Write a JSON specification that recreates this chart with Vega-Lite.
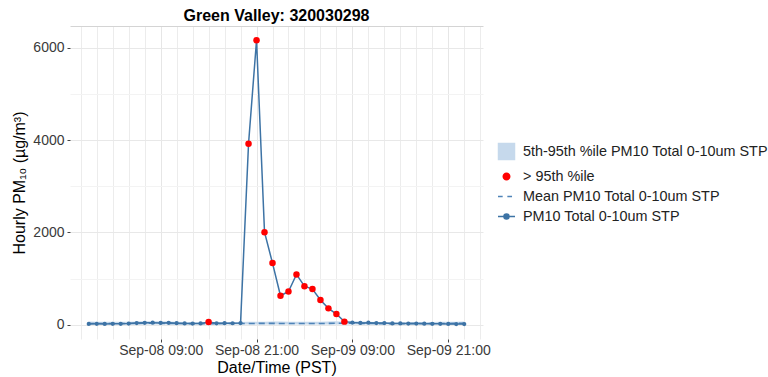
{
  "$schema": "https://vega.github.io/schema/vega-lite/v6.json",
  "autosize": {"type": "none"},
  "padding": {"left": 70, "top": 26, "right": 285, "bottom": 38},
  "width": 413,
  "height": 313,
  "background": "white",
  "title": {
    "text": "Green Valley: 320030298",
    "font": "Liberation Sans",
    "fontSize": 16,
    "fontWeight": "bold",
    "color": "#000000",
    "anchor": "middle",
    "offset": 2
  },
  "config": {
    "view": {"stroke": null},
    "font": "Liberation Sans",
    "axis": {
      "domain": false,
      "labelFont": "Liberation Sans",
      "labelFontSize": 14,
      "labelColor": "#3a3a3a",
      "titleFont": "Liberation Sans",
      "titleFontSize": 16,
      "titleFontWeight": "normal",
      "titleColor": "#000000",
      "tickColor": "#444444",
      "tickSize": 3,
      "tickWidth": 1,
      "gridWidth": 1,
      "gridColor": "#ebebeb",
      "gridOpacity": 1
    }
  },
  "data": {
    "values": [
      {"time": "2023-09-08T00:00:00", "pm10": 18, "mean": 28, "p5": 6, "p95": 70},
      {"time": "2023-09-08T01:00:00", "pm10": 20, "mean": 27, "p5": 6, "p95": 68},
      {"time": "2023-09-08T02:00:00", "pm10": 19, "mean": 27, "p5": 5, "p95": 66},
      {"time": "2023-09-08T03:00:00", "pm10": 21, "mean": 26, "p5": 5, "p95": 64},
      {"time": "2023-09-08T04:00:00", "pm10": 20, "mean": 26, "p5": 5, "p95": 64},
      {"time": "2023-09-08T05:00:00", "pm10": 25, "mean": 27, "p5": 6, "p95": 66},
      {"time": "2023-09-08T06:00:00", "pm10": 38, "mean": 30, "p5": 7, "p95": 72},
      {"time": "2023-09-08T07:00:00", "pm10": 42, "mean": 32, "p5": 8, "p95": 76},
      {"time": "2023-09-08T08:00:00", "pm10": 45, "mean": 33, "p5": 8, "p95": 78},
      {"time": "2023-09-08T09:00:00", "pm10": 40, "mean": 32, "p5": 8, "p95": 74},
      {"time": "2023-09-08T10:00:00", "pm10": 42, "mean": 30, "p5": 7, "p95": 70},
      {"time": "2023-09-08T11:00:00", "pm10": 35, "mean": 28, "p5": 7, "p95": 64},
      {"time": "2023-09-08T12:00:00", "pm10": 28, "mean": 26, "p5": 6, "p95": 60},
      {"time": "2023-09-08T13:00:00", "pm10": 26, "mean": 25, "p5": 6, "p95": 56},
      {"time": "2023-09-08T14:00:00", "pm10": 30, "mean": 24, "p5": 5, "p95": 54},
      {"time": "2023-09-08T15:00:00", "pm10": 58, "mean": 24, "p5": 5, "p95": 52},
      {"time": "2023-09-08T16:00:00", "pm10": 32, "mean": 25, "p5": 5, "p95": 55},
      {"time": "2023-09-08T17:00:00", "pm10": 35, "mean": 26, "p5": 6, "p95": 58},
      {"time": "2023-09-08T18:00:00", "pm10": 33, "mean": 27, "p5": 6, "p95": 60},
      {"time": "2023-09-08T19:00:00", "pm10": 38, "mean": 28, "p5": 6, "p95": 62},
      {"time": "2023-09-08T20:00:00", "pm10": 3920, "mean": 29, "p5": 6, "p95": 64},
      {"time": "2023-09-08T21:00:00", "pm10": 6160, "mean": 29, "p5": 6, "p95": 66},
      {"time": "2023-09-08T22:00:00", "pm10": 2005, "mean": 30, "p5": 7, "p95": 68},
      {"time": "2023-09-08T23:00:00", "pm10": 1335, "mean": 30, "p5": 7, "p95": 70},
      {"time": "2023-09-09T00:00:00", "pm10": 628, "mean": 28, "p5": 6, "p95": 70},
      {"time": "2023-09-09T01:00:00", "pm10": 720, "mean": 27, "p5": 6, "p95": 68},
      {"time": "2023-09-09T02:00:00", "pm10": 1090, "mean": 27, "p5": 5, "p95": 66},
      {"time": "2023-09-09T03:00:00", "pm10": 835, "mean": 26, "p5": 5, "p95": 64},
      {"time": "2023-09-09T04:00:00", "pm10": 772, "mean": 26, "p5": 5, "p95": 64},
      {"time": "2023-09-09T05:00:00", "pm10": 535, "mean": 27, "p5": 6, "p95": 66},
      {"time": "2023-09-09T06:00:00", "pm10": 355, "mean": 30, "p5": 7, "p95": 72},
      {"time": "2023-09-09T07:00:00", "pm10": 232, "mean": 32, "p5": 8, "p95": 76},
      {"time": "2023-09-09T08:00:00", "pm10": 68, "mean": 33, "p5": 8, "p95": 60},
      {"time": "2023-09-09T09:00:00", "pm10": 48, "mean": 32, "p5": 8, "p95": 74},
      {"time": "2023-09-09T10:00:00", "pm10": 40, "mean": 30, "p5": 7, "p95": 70},
      {"time": "2023-09-09T11:00:00", "pm10": 45, "mean": 28, "p5": 7, "p95": 64},
      {"time": "2023-09-09T12:00:00", "pm10": 38, "mean": 26, "p5": 6, "p95": 60},
      {"time": "2023-09-09T13:00:00", "pm10": 36, "mean": 25, "p5": 6, "p95": 56},
      {"time": "2023-09-09T14:00:00", "pm10": 30, "mean": 24, "p5": 5, "p95": 54},
      {"time": "2023-09-09T15:00:00", "pm10": 28, "mean": 24, "p5": 5, "p95": 52},
      {"time": "2023-09-09T16:00:00", "pm10": 26, "mean": 25, "p5": 5, "p95": 55},
      {"time": "2023-09-09T17:00:00", "pm10": 25, "mean": 26, "p5": 6, "p95": 58},
      {"time": "2023-09-09T18:00:00", "pm10": 24, "mean": 27, "p5": 6, "p95": 60},
      {"time": "2023-09-09T19:00:00", "pm10": 22, "mean": 28, "p5": 6, "p95": 62},
      {"time": "2023-09-09T20:00:00", "pm10": 20, "mean": 29, "p5": 6, "p95": 64},
      {"time": "2023-09-09T21:00:00", "pm10": 18, "mean": 29, "p5": 6, "p95": 66},
      {"time": "2023-09-09T22:00:00", "pm10": 16, "mean": 30, "p5": 7, "p95": 68},
      {"time": "2023-09-09T23:00:00", "pm10": 15, "mean": 30, "p5": 7, "p95": 70}
    ]
  },
  "encoding": {
    "x": {
      "field": "time",
      "type": "temporal",
      "title": "Date/Time (PST)",
      "scale": {
        "domain": [
          {"year": 2023, "month": 9, "date": 7, "hours": 21, "minutes": 39},
          {"year": 2023, "month": 9, "date": 10, "hours": 1, "minutes": 21}
        ]
      },
      "axis": {
        "values": [
          {"year": 2023, "month": 9, "date": 7, "hours": 23},
          {"year": 2023, "month": 9, "date": 8, "hours": 1},
          {"year": 2023, "month": 9, "date": 8, "hours": 3},
          {"year": 2023, "month": 9, "date": 8, "hours": 5},
          {"year": 2023, "month": 9, "date": 8, "hours": 7},
          {"year": 2023, "month": 9, "date": 8, "hours": 9},
          {"year": 2023, "month": 9, "date": 8, "hours": 11},
          {"year": 2023, "month": 9, "date": 8, "hours": 13},
          {"year": 2023, "month": 9, "date": 8, "hours": 15},
          {"year": 2023, "month": 9, "date": 8, "hours": 17},
          {"year": 2023, "month": 9, "date": 8, "hours": 19},
          {"year": 2023, "month": 9, "date": 8, "hours": 21},
          {"year": 2023, "month": 9, "date": 8, "hours": 23},
          {"year": 2023, "month": 9, "date": 9, "hours": 1},
          {"year": 2023, "month": 9, "date": 9, "hours": 3},
          {"year": 2023, "month": 9, "date": 9, "hours": 5},
          {"year": 2023, "month": 9, "date": 9, "hours": 7},
          {"year": 2023, "month": 9, "date": 9, "hours": 9},
          {"year": 2023, "month": 9, "date": 9, "hours": 11},
          {"year": 2023, "month": 9, "date": 9, "hours": 13},
          {"year": 2023, "month": 9, "date": 9, "hours": 15},
          {"year": 2023, "month": 9, "date": 9, "hours": 17},
          {"year": 2023, "month": 9, "date": 9, "hours": 19},
          {"year": 2023, "month": 9, "date": 9, "hours": 21},
          {"year": 2023, "month": 9, "date": 9, "hours": 23},
          {"year": 2023, "month": 9, "date": 10, "hours": 1}
        ],
        "labelExpr": "(hours(datum.value) == 9 || hours(datum.value) == 21) ? timeFormat(datum.value, '%b-%d %H:%M') : ''",
        "labelPadding": 1,
        "labelFlush": false,
        "labelOverlap": false,
        "titlePadding": 2,
        "tickOpacity": {"condition": {"test": "hours(datum.value) == 9 || hours(datum.value) == 21", "value": 1}, "value": 0},
        "gridColor": {"condition": {"test": "hours(datum.value) == 9 || hours(datum.value) == 21", "value": "#e6e6e6"}, "value": "#ececec"},
        "gridOpacity": 1
      }
    },
    "color": {
      "type": "nominal",
      "scale": {
        "domain": ["5th-95th %ile PM10 Total 0-10um STP", "> 95th %ile", "Mean PM10 Total 0-10um STP", "PM10 Total 0-10um STP"],
        "range": ["#c6d9ec", "#ff0000", "#4f84b8", "#3d73a5"]
      },
      "legend": {
        "title": null,
        "orient": "none",
        "legendX": 427,
        "legendY": 116,
        "labelFont": "Liberation Sans",
        "labelFontSize": 14.4,
        "labelColor": "#222222",
        "labelLimit": 400,
        "labelOffset": 7,
        "rowPadding": 4,
        "symbolSize": 289,
        "symbolStrokeWidth": 1.5,
        "encode": {
          "symbols": {
            "update": {
              "shape": {"signal": "datum.index == 0 ? 'square' : datum.index == 1 ? 'circle' : datum.index == 2 ? 'M-1,0L-0.45,0M0.1,0L0.65,0' : 'M-1,0L1,0M-0.3,0A0.3,0.3,0,1,0,0.3,0A0.3,0.3,0,1,0,-0.3,0'"},
              "size": {"signal": "datum.index == 0 ? 256 : datum.index == 1 ? 42 : 289"},
              "fill": {"signal": "datum.index == 0 ? '#c6d9ec' : datum.index == 1 ? '#ff0000' : datum.index == 2 ? 'transparent' : '#3d73a5'"},
              "stroke": {"signal": "datum.index <= 1 ? 'transparent' : datum.index == 2 ? '#7ea7d0' : '#3d73a5'"},
              "strokeWidth": {"value": 1.5},
              "opacity": {"value": 1},
              "fillOpacity": {"value": 1},
              "strokeOpacity": {"value": 1}
            }
          }
        }
      }
    }
  },
  "layer": [
    {
      "mark": {"type": "area", "opacity": 1},
      "encoding": {
        "y": {
          "field": "p5",
          "type": "quantitative",
          "title": "Hourly PM₁₀ (µg/m³)",
          "scale": {"domain": [-308, 6468], "nice": false, "zero": false},
          "axis": {
            "values": [0, 1000, 2000, 3000, 4000, 5000, 6000, 6466],
            "format": "d",
            "labelExpr": "datum.value % 2000 == 0 ? datum.label : ''",
            "labelPadding": 3,
            "titlePadding": 5,
            "tickOpacity": {"condition": {"test": "datum.value % 2000 == 0", "value": 1}, "value": 0},
            "gridColor": {
              "condition": [
                {"test": "datum.value > 6400", "value": "#d4d4d4"},
                {"test": "datum.value % 2000 == 0", "value": "#e8e8e8"}
              ],
              "value": "#f3f3f3"
            }
          }
        },
        "y2": {"field": "p95"},
        "color": {"datum": "5th-95th %ile PM10 Total 0-10um STP"}
      }
    },
    {
      "mark": {"type": "line", "strokeDash": [6, 4], "strokeWidth": 1.6},
      "encoding": {
        "y": {"field": "mean", "type": "quantitative"},
        "color": {"datum": "Mean PM10 Total 0-10um STP"}
      }
    },
    {
      "mark": {"type": "line", "strokeWidth": 1.5},
      "encoding": {
        "y": {"field": "pm10", "type": "quantitative"},
        "color": {"datum": "PM10 Total 0-10um STP"}
      }
    },
    {
      "mark": {"type": "point", "filled": true, "opacity": 1, "size": 18},
      "encoding": {
        "y": {"field": "pm10", "type": "quantitative"},
        "color": {"datum": "PM10 Total 0-10um STP"}
      }
    },
    {
      "transform": [{"filter": "datum.pm10 > datum.p95"}],
      "mark": {"type": "point", "filled": true, "opacity": 1, "size": 42},
      "encoding": {
        "y": {"field": "pm10", "type": "quantitative"},
        "color": {"datum": "> 95th %ile"}
      }
    }
  ],
  "resolve": {"scale": {"color": "shared"}}
}
